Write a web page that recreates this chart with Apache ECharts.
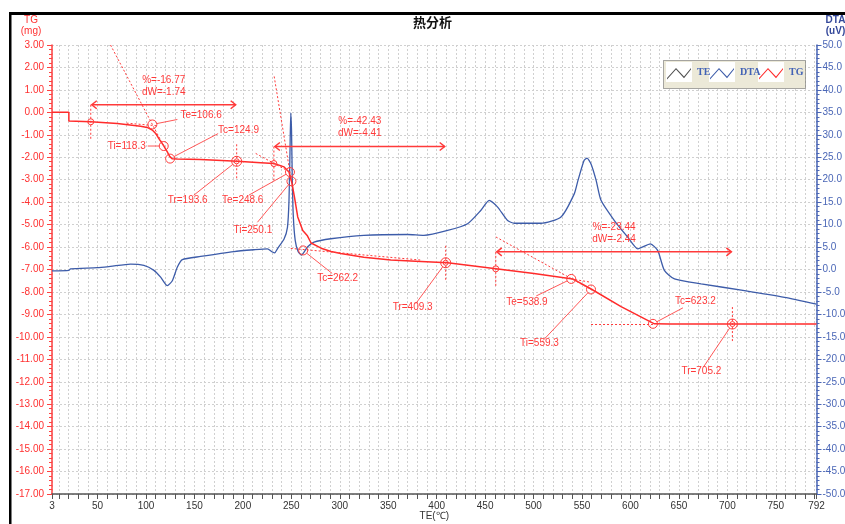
<!DOCTYPE html>
<html>
<head>
<meta charset="utf-8">
<title>热分析</title>
<script src="https://cdn.jsdelivr.net/npm/echarts@6/dist/echarts.min.js"></script>
<style>
  html, body { margin: 0; padding: 0; background: #ffffff; }
  #chart { width: 845px; height: 524px; }
</style>
</head>
<body>
<div id="chart"></div>
<script>
// ---- TG trace: temperature (°C) / mass change (mg) ----
const tgTemp = [3, 20.4, 20.4, 43, 70.4, 94.4, 101.3, 106.5, 110, 113.3, 116.8, 118.5, 122, 124.4, 127.2,
  132.3, 156.4, 194.3, 218.4, 232.1, 242.5, 247.6, 250.4, 253.2, 256.6, 261.8, 266.6, 270.4, 280.7,
  291, 301, 324.8, 352.7, 383.7, 411.3, 461.2, 500.4, 540.4, 560.3, 590.3, 624.7, 640, 792];
const tgMass = [0.00, 0.00, -0.38, -0.42, -0.50, -0.62, -0.67, -0.79, -0.94, -1.17, -1.39, -1.50, -1.76, -1.96, -2.07,
  -2.08, -2.10, -2.18, -2.24, -2.28, -2.43, -2.66, -3.10, -3.77, -4.66, -5.26, -5.50, -5.82, -6.05,
  -6.20, -6.29, -6.45, -6.58, -6.64, -6.70, -6.97, -7.18, -7.42, -7.89, -8.65, -9.42, -9.43, -9.43];

// ---- DTA trace: temperature (°C) / signal (uV) ----
const dtaTemp = [3, 20.4, 22.1, 49.7, 63.4, 84.1, 97.8, 108.2, 115.1, 122.0, 127.2, 132.3, 137.5, 156.4,
  190.8, 211.5, 225.3, 230.5, 232.9, 235.6, 242.5, 246.0, 247.6, 248.6, 249.4, 250.2, 251.0, 252.0, 254.0,
  257.0, 260.4, 266.6, 273.4, 290.7, 324.8, 369.9, 386.8, 411.3, 431.9, 445.7, 454.2, 462.9, 473.2, 480.1,
  507.7, 528.3, 542.1, 545.9, 552.1, 555.2, 559.3, 564.5, 569.6, 583.4, 597.2, 607.6, 620.6, 628.2, 635.0,
  645.4, 672.9, 717.7, 759.0, 792];
const dtaSignal = [-0.3, -0.2, 0.15, 0.4, 0.7, 1.2, 0.9, -0.2, -1.7, -3.6, -2.5, 0.5, 2.2, 2.9,
  4.0, 4.4, 4.6, 3.9, 3.7, 4.6, 6.8, 9.4, 15.4, 26.0, 34.9, 31.0, 20.0, 12.0, 6.5,
  4.0, 3.2, 5.0, 6.1, 6.85, 7.6, 7.8, 7.6, 8.7, 10.2, 13.2, 15.4, 13.9, 10.9, 10.3,
  10.3, 11.7, 16.9, 19.9, 24.3, 24.8, 23.5, 19.9, 15.4, 10.9, 7.2, 4.6, 5.7, 4.2, -0.2,
  -2.1, -3.2, -4.7, -6.2, -7.7];

// ---- characteristic temperatures picked on the TG trace ----
const pointTemp = [106.6, 118.3, 124.9, 193.6, 248.6, 250.1, 262.2, 409.3, 538.9, 559.3, 623.2, 705.2];
const pointMass = [-0.54, -1.50, -2.06, -2.18, -2.66, -3.07, -6.15, -6.70, -7.42, -7.89, -9.42, -9.43];
const pointKind = ['Te', 'Ti', 'Tc', 'Tr', 'Te', 'Ti', 'Tc', 'Tr', 'Te', 'Ti', 'Tc', 'Tr'];

// ---- mass-loss steps: start point, end temperature, loss in % and in mg ----
const stepStartTemp = [43, 232, 461];
const stepStartMass = [-0.42, -2.28, -6.97];
const stepEndTemp = [193.6, 409.3, 705.2];
const stepPercent = [-16.77, -42.43, -23.44];
const stepMassLoss = [-1.74, -4.41, -2.44];

// ---- construction lines (tangents and baselines), [T, mass] ends ----
const tangentFrom = [[63.4, 3.0], [80, -0.48], [232.3, 1.60], [213.2, -1.83], [249.4, -6.06],
  [461.1, -5.55], [538.9, -7.42], [559.3, -9.43]];
const tangentTo = [[118.3, -1.50], [112, -0.60], [250.1, -3.07], [248.6, -2.66], [383.7, -6.58],
  [559.3, -7.89], [559.3, -7.57], [623.2, -9.42]];

// ---- axis labels ----
const xLabelValues = [3, 50, 100, 150, 200, 250, 300, 350, 400, 450, 500, 550, 600, 650, 700, 750, 792];
const seriesNames = ['TE', 'DTA', 'TG'];

// ---- drawing ----
const RED = '#ff2b2b';
const ANN = '#ff3a3a';
const BLUE = '#3d5ca9';
const AXIS_BLUE = '#4a66b6';
const GRID = '#d0d0d0';
const FONT = '"Liberation Sans", Arial, sans-serif';

const xTickValues = [3];
for (let t = 10; t <= 790; t += 10) xTickValues.push(t);
xTickValues.push(792);

// text placement of each characteristic point, in pixels from the point
const pointLabelLayout = [
  { tx: 28, ty: -9, lx: 25, ly: -5, align: 'left' },
  { tx: -18, ty: 0, lx: -16, ly: 0, align: 'right' },
  { tx: 48, ty: -28, lx: 48, ly: -25, align: 'left' },
  { tx: -69, ty: 39, lx: -43, ly: 34, align: 'left' },
  { tx: -68, ty: 28, lx: -41, ly: 23, align: 'left' },
  { tx: -58, ty: 49, lx: -34, ly: 41, align: 'left' },
  { tx: 14, ty: 28, lx: 29, ly: 23, align: 'left' },
  { tx: -53, ty: 44, lx: -30, ly: 41, align: 'left' },
  { tx: -65, ty: 23, lx: -35, ly: 17, align: 'left' },
  { tx: -71, ty: 54, lx: -48, ly: 51, align: 'left' },
  { tx: 22, ty: -23, lx: 30, ly: -16, align: 'left' },
  { tx: -51, ty: 47, lx: -29, ly: 43, align: 'left' }
];

const dotted = [2, 2];

function renderPoint(params, api) {
  const i = params.dataIndex;
  const t = api.value(0);
  const c = api.coord([t, api.value(1)]);
  const L = pointLabelLayout[i];
  const kind = pointKind[i];
  const r = kind === 'Tr' ? 5 : 4.5;
  const children = [
    { type: 'circle', shape: { cx: c[0], cy: c[1], r: r }, style: { fill: 'none', stroke: ANN, lineWidth: 1 } }
  ];
  if (kind === 'Tr') {
    children.push({ type: 'circle', shape: { cx: c[0], cy: c[1], r: 2.5 }, style: { fill: 'none', stroke: ANN, lineWidth: 1 } });
    children.push({ type: 'line', shape: { x1: c[0], y1: c[1] - 17, x2: c[0], y2: c[1] + 17 },
      style: { stroke: ANN, lineWidth: 1, lineDash: dotted } });
  }
  const d = Math.hypot(L.lx, L.ly);
  children.push({ type: 'line',
    shape: { x1: c[0] + L.lx / d * r, y1: c[1] + L.ly / d * r, x2: c[0] + L.lx, y2: c[1] + L.ly },
    style: { stroke: ANN, lineWidth: 1, opacity: 0.85 } });
  children.push({ type: 'text', x: c[0] + L.tx, y: c[1] + L.ty,
    style: { text: kind + '=' + t.toFixed(1), fill: ANN, fontSize: 10, fontFamily: FONT,
      align: L.align, verticalAlign: 'middle' } });
  return { type: 'group', children: children };
}

function renderStep(params, api) {
  const p = api.coord([api.value(0), api.value(1)]);
  const q = api.coord([api.value(2), api.value(1)]);
  const y = p[1] - 17;
  const mid = (p[0] + q[0]) / 2;
  const head = 6, half = 4;
  return {
    type: 'group',
    children: [
      { type: 'circle', shape: { cx: p[0], cy: p[1], r: 3 }, style: { fill: 'none', stroke: ANN, lineWidth: 1 } },
      { type: 'line', shape: { x1: p[0], y1: y, x2: p[0], y2: p[1] + 17 }, style: { stroke: ANN, lineWidth: 1, lineDash: dotted } },
      { type: 'line', shape: { x1: p[0] + 1, y1: y, x2: q[0] - 1, y2: y }, style: { stroke: ANN, lineWidth: 1.5 } },
      { type: 'polyline', shape: { points: [[p[0] + head, y - half], [p[0] + 1, y], [p[0] + head, y + half]] }, style: { stroke: ANN, fill: 'none', lineWidth: 1.5 } },
      { type: 'polyline', shape: { points: [[q[0] - head, y - half], [q[0] - 1, y], [q[0] - head, y + half]] }, style: { stroke: ANN, fill: 'none', lineWidth: 1.5 } },
      { type: 'text', x: mid, y: y - 25, style: { text: '%=' + api.value(3).toFixed(2), fill: ANN, fontSize: 10, fontFamily: FONT, align: 'center', verticalAlign: 'middle' } },
      { type: 'text', x: mid, y: y - 13, style: { text: 'dW=' + api.value(4).toFixed(2), fill: ANN, fontSize: 10, fontFamily: FONT, align: 'center', verticalAlign: 'middle' } }
    ]
  };
}

const legendIcon = 'path://M0,0M26,20M1,16L10,6L18,14.6L25,6L25,7.6L18,16.2L10,7.6L1,17.6Z';
const legendLeft = [666, 709, 758];
const legends = seriesNames.map((name, i) => ({
  data: [name],
  left: legendLeft[i],
  top: 62,
  padding: 0,
  itemWidth: 26,
  itemHeight: 20,
  icon: legendIcon,
  itemStyle: { borderWidth: 0 },
  textStyle: { color: '#4262b5', fontSize: 10, fontWeight: 'bold', fontFamily: '"Liberation Serif", serif' },
  z: 4
}));

const chart = echarts.init(document.getElementById('chart'), null, { renderer: 'canvas' });

chart.setOption({
  animation: false,
  title: {
    text: '热分析',
    left: 413,
    top: 16,
    padding: 0,
    textStyle: { fontFamily: '"Noto Sans CJK SC", sans-serif', fontSize: 13, fontWeight: 'bold', color: '#111' }
  },
  legend: legends,
  graphic: [
    { type: 'rect', shape: { x: 663.5, y: 60.5, width: 142, height: 28 },
      style: { fill: '#ece9d8', stroke: '#555', lineWidth: 1, lineDash: [1, 1] }, z: 1 },
    { type: 'rect', shape: { x: 666, y: 62, width: 26, height: 20 }, style: { fill: '#ffffff' }, z: 1 },
    { type: 'rect', shape: { x: 709, y: 62, width: 26, height: 20 }, style: { fill: '#ffffff' }, z: 1 },
    { type: 'rect', shape: { x: 758, y: 62, width: 26, height: 20 }, style: { fill: '#ffffff' }, z: 1 },
    { type: 'rect', shape: { x: 9, y: 12, width: 2.5, height: 520 }, style: { fill: '#000' }, z: 10 },
    { type: 'rect', shape: { x: 9, y: 12, width: 840, height: 3 }, style: { fill: '#000' }, z: 10 }
  ],
  grid: { left: 52, right: 28.5, top: 45, bottom: 30, outerBoundsMode: 'none', containLabel: false },
  xAxis: {
    type: 'value',
    min: 3,
    max: 792,
    splitNumber: 16,
    name: 'TE(℃)',
    nameLocation: 'middle',
    nameGap: 17,
    nameMoveOverlap: false,
    nameTextStyle: { color: '#333', fontSize: 10, fontFamily: FONT },
    axisLine: { onZero: false, lineStyle: { color: '#555', width: 1.5 } },
    axisTick: { show: true, customValues: xTickValues, length: 5, lineStyle: { color: '#555' } },
    axisLabel: { customValues: xLabelValues, color: '#333', fontSize: 10, fontFamily: FONT, margin: 7 },
    splitLine: { show: true, lineStyle: { color: GRID, type: dotted } }
  },
  yAxis: [
    {
      type: 'value',
      position: 'left',
      min: -17,
      max: 3,
      interval: 1,
      name: 'TG\n(mg)',
      nameLocation: 'end',
      nameGap: 8,
      nameMoveOverlap: false,
      nameTextStyle: { color: '#ff3030', fontSize: 10, lineHeight: 11, fontFamily: FONT, align: 'center', padding: [0, 42, 0, 0] },
      axisLine: { show: true, onZero: false, lineStyle: { color: '#ff4040', width: 1.5 } },
      axisTick: { show: true, length: 5, lineStyle: { color: '#ff4040' } },
      minorTick: { show: true, splitNumber: 5, length: 3, lineStyle: { color: '#ff4040' } },
      axisLabel: { color: '#ff3030', fontSize: 10, fontFamily: FONT, margin: 8, formatter: v => v.toFixed(2) },
      splitLine: { show: true, lineStyle: { color: GRID, type: dotted } }
    },
    {
      type: 'value',
      position: 'right',
      min: -50,
      max: 50,
      interval: 5,
      name: 'DTA\n(uV)',
      nameLocation: 'end',
      nameGap: 8,
      nameMoveOverlap: false,
      nameTextStyle: { color: '#34489a', fontSize: 10, lineHeight: 11, fontWeight: 'bold', fontFamily: FONT, align: 'center', padding: [0, 0, 0, 38] },
      axisLine: { show: true, onZero: false, lineStyle: { color: AXIS_BLUE, width: 1.5 } },
      axisTick: { show: true, length: 5, lineStyle: { color: AXIS_BLUE } },
      minorTick: { show: true, splitNumber: 5, length: 3, lineStyle: { color: AXIS_BLUE } },
      axisLabel: { color: AXIS_BLUE, fontSize: 10, fontFamily: FONT, margin: 6, formatter: v => v.toFixed(1) },
      splitLine: { show: false }
    }
  ],
  series: [
    { name: 'TE', type: 'line', data: [], color: '#505050', symbol: 'none' },
    {
      name: 'DTA',
      type: 'line',
      yAxisIndex: 1,
      data: dtaTemp.map((t, i) => [t, dtaSignal[i]]),
      symbol: 'none',
      smooth: 0.2,
      color: BLUE,
      lineStyle: { color: BLUE, width: 1.3 },
      z: 2
    },
    {
      name: 'TG',
      type: 'line',
      yAxisIndex: 0,
      data: tgTemp.map((t, i) => [t, tgMass[i]]),
      symbol: 'none',
      color: RED,
      lineStyle: { color: RED, width: 1.5 },
      z: 3,
      markLine: {
        silent: true,
        symbol: ['none', 'none'],
        label: { show: false },
        lineStyle: { color: ANN, width: 1, type: dotted },
        emphasis: { disabled: true },
        data: tangentFrom.map((a, i) => [{ coord: a }, { coord: tangentTo[i] }])
      }
    },
    {
      name: 'steps',
      type: 'custom',
      yAxisIndex: 0,
      silent: true,
      clip: false,
      z: 4,
      encode: { x: 0, y: 1 },
      data: stepStartTemp.map((t, i) => [t, stepStartMass[i], stepEndTemp[i], stepPercent[i], stepMassLoss[i]]),
      renderItem: renderStep
    },
    {
      name: 'points',
      type: 'custom',
      yAxisIndex: 0,
      silent: true,
      clip: false,
      z: 4,
      encode: { x: 0, y: 1 },
      data: pointTemp.map((t, i) => [t, pointMass[i]]),
      renderItem: renderPoint
    }
  ]
});
</script>
</body>
</html>
